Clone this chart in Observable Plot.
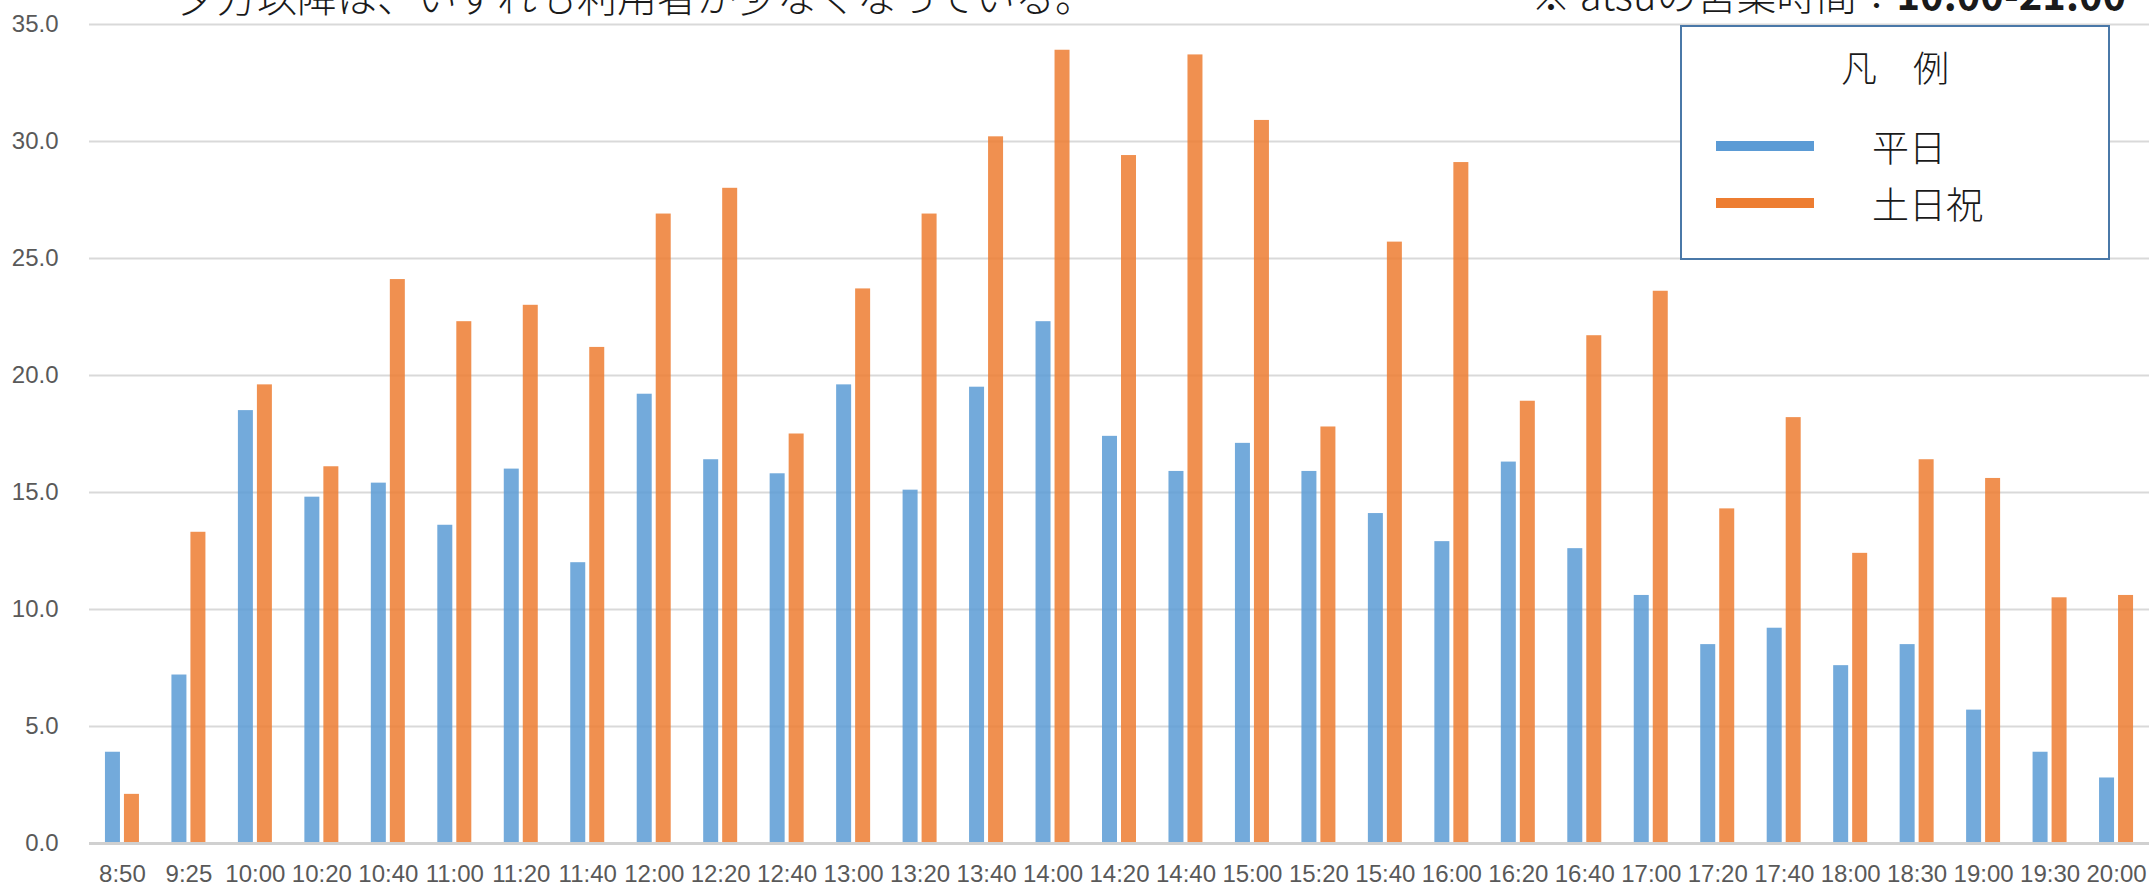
<!DOCTYPE html>
<html>
<head>
<meta charset="utf-8">
<script src="https://cdn.jsdelivr.net/npm/d3@7"></script>
<script src="https://cdn.jsdelivr.net/npm/@observablehq/plot@0.6"></script>
<style>
  html, body { margin: 0; padding: 0; background: #fff; overflow: hidden; }
  #wrap { position: relative; width: 2149px; height: 887px; }
  #chart { position: absolute; left: 0; top: 0; }
  #header { position: absolute; left: 0; top: 0; pointer-events: none; }
  #legend {
    position: absolute; left: 1680px; top: 25px; width: 430px; height: 235px;
    box-sizing: border-box; border: 2px solid #4a78a8; background: #fff;
    font-family: "Noto Sans CJK JP", "Noto Sans", sans-serif; font-weight: 300; color: #1a1a1a;
  }
  #legend .title { position: absolute; left: 0; width: 100%; top: 17px; text-align: center; font-size: 36px; line-height: 44px; }
  #legend .item { position: absolute; left: 0; width: 100%; height: 44px; }
  #legend .swatch { position: absolute; left: 34px; width: 98px; height: 10px; }
  #legend .label { position: absolute; left: 190px; font-size: 37px; line-height: 44px; top: 0; }
</style>
</head>
<body>
<div id="wrap">
  <div id="chart"></div>
  <svg id="header" width="2149" height="60"></svg>
  <div id="legend"></div>
</div>
<script>
// ---- data ----
const times = ["8:50","9:25","10:00","10:20","10:40","11:00","11:20","11:40","12:00","12:20",
  "12:40","13:00","13:20","13:40","14:00","14:20","14:40","15:00","15:20","15:40",
  "16:00","16:20","16:40","17:00","17:20","17:40","18:00","18:30","19:00","19:30","20:00"];
const seriesNames = ["平日", "土日祝"];
const weekday = [3.9, 7.2, 18.5, 14.8, 15.4, 13.6, 16.0, 12.0, 19.2, 16.4,
  15.8, 19.6, 15.1, 19.5, 22.3, 17.4, 15.9, 17.1, 15.9, 14.1,
  12.9, 16.3, 12.6, 10.6, 8.5, 9.2, 7.6, 8.5, 5.7, 3.9, 2.8];
const holiday = [2.1, 13.3, 19.6, 16.1, 24.1, 22.3, 23.0, 21.2, 26.9, 28.0,
  17.5, 23.7, 26.9, 30.2, 33.9, 29.4, 33.7, 30.9, 17.8, 25.7,
  29.1, 18.9, 21.7, 23.6, 14.3, 18.2, 12.4, 16.4, 15.6, 10.5, 10.6];
const yTicks = [0, 5, 10, 15, 20, 25, 30, 35];
const seriesColors = ["#5b9bd5", "#ed7d31"];
const headerLeft = "夕方以降は、いずれも利用者が少なくなっている。";
const headerRightA = "※ atsuの営業時間：";
const headerRightB = "10:00-21:00";
const legendTitle = "凡　例";

// ---- table ----
const rows = [];
times.forEach((t, i) => {
  rows.push({time: t, series: seriesNames[0], value: weekday[i]});
  rows.push({time: t, series: seriesNames[1], value: holiday[i]});
});

const labelFont = "'Liberation Sans', Arial, sans-serif";

const chart = Plot.plot({
  width: 2149,
  height: 887,
  marginLeft: 89,
  marginRight: 0,
  marginTop: 24,
  marginBottom: 44,
  style: {background: "transparent", fontFamily: labelFont, color: "#595959"},
  x: {domain: times, paddingInner: 0.7744, paddingOuter: 0.383, round: false, label: null},
  y: {domain: [0, 35], label: null},
  color: {domain: seriesNames, range: seriesColors},
  marks: [
    Plot.ruleY(yTicks.filter(d => d > 0), {stroke: "#d9d9d9", strokeWidth: 2}),
    Plot.barY(rows.filter(d => d.series === seriesNames[0]),
      {x: "time", y: "value", fill: "series", fillOpacity: 0.85, dx: -9.5}),
    Plot.barY(rows.filter(d => d.series === seriesNames[1]),
      {x: "time", y: "value", fill: "series", fillOpacity: 0.85, dx: 9.5}),
    Plot.ruleY([0], {stroke: "#d0d0d0", strokeWidth: 3}),
    Plot.axisY(yTicks, {tickSize: 0, tickPadding: 31, tickFormat: d3.format(".1f"),
      fontSize: 24, fill: "#595959", label: null}),
    Plot.axisX({tickSize: 0, tickPadding: 21, fontSize: 24, fill: "#595959", label: null})
  ]
});
document.getElementById("chart").appendChild(chart);

// ---- header texts (clipped at top as in the reference) ----
const hdr = d3.select("#header");
hdr.append("text").attr("x", 177).attr("y", 12)
  .attr("font-family", "'Noto Sans CJK JP', sans-serif").attr("font-size", 40)
  .attr("font-weight", 300).attr("fill", "#1a1a1a").text(headerLeft);
const tr = hdr.append("text").attr("x", 1531).attr("y", 10)
  .attr("font-family", "'Noto Sans CJK JP', sans-serif").attr("font-size", 40)
  .attr("font-weight", 300).attr("fill", "#1a1a1a");
tr.append("tspan").text(headerRightA);
tr.append("tspan").attr("font-weight", 700).text(headerRightB);

// ---- legend ----
const lg = d3.select("#legend");
lg.append("div").attr("class", "title").text(legendTitle);
const itemTops = [97, 154];
seriesNames.forEach((name, i) => {
  const it = lg.append("div").attr("class", "item").style("top", itemTops[i] + "px");
  it.append("div").attr("class", "swatch").style("top", "17px").style("background", seriesColors[i]);
  it.append("div").attr("class", "label").text(name);
});
</script>
</body>
</html>
